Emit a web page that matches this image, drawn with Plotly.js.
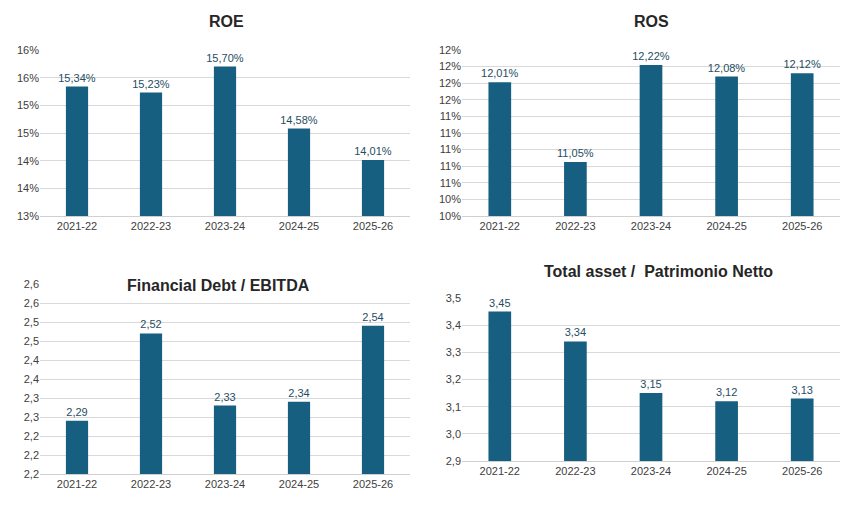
<!DOCTYPE html>
<html><head><meta charset="utf-8">
<script src="https://cdn.plot.ly/plotly-3.0.1.min.js"></script>
<style>body{margin:0;background:#fff}</style></head>
<body><div id="plot" style="width:857px;height:520px"></div>
<script>
const years = ["2021-22", "2022-23", "2023-24", "2024-25", "2025-26"];
const roe = [15.34, 15.23, 15.70, 14.58, 14.01];
const ros = [12.01, 11.05, 12.22, 12.08, 12.12];
const debtEbitda = [2.29, 2.52, 2.33, 2.34, 2.54];
const assetEquity = [3.45, 3.34, 3.15, 3.12, 3.13];

const roeTicks = [13, 13.5, 14, 14.5, 15, 15.5, 16];
const roeTickText = ["13%", "14%", "14%", "15%", "15%", "16%", "16%"];
const rosTicks = [10.4, 10.6, 10.8, 11.0, 11.2, 11.4, 11.6, 11.8, 12.0, 12.2, 12.4];
const rosTickText = ["10%", "10%", "11%", "11%", "11%", "11%", "11%", "12%", "12%", "12%", "12%"];
const debtTicks = [2.15, 2.2, 2.25, 2.3, 2.35, 2.4, 2.45, 2.5, 2.55, 2.6, 2.65];
const debtTickText = ["2,2", "2,2", "2,2", "2,3", "2,3", "2,4", "2,4", "2,5", "2,5", "2,6", "2,6"];
const assetTicks = [2.9, 3.0, 3.1, 3.2, 3.3, 3.4, 3.5];
const assetTickText = ["2,9", "3,0", "3,1", "3,2", "3,3", "3,4", "3,5"];

const BAR = "#165f80";
const fmt = (v, d, pct) => v.toFixed(d).replace(".", ",") + (pct ? "%" : "");

function bar(y, xa, ya, d, pct) {
  return {
    type: "bar", x: years, y, xaxis: xa, yaxis: ya, width: 0.3,
    marker: { color: BAR }, text: y.map(v => fmt(v, d, pct)),
    textposition: "outside", cliponaxis: false, constraintext: "none",
    textfont: { size: 11, color: "#1f4e63" }, hoverinfo: "skip"
  };
}

const traces = [
  bar(roe, "x", "y", 2, true),
  bar(ros, "x2", "y2", 2, true),
  bar(debtEbitda, "x3", "y3", 2, false),
  bar(assetEquity, "x4", "y4", 2, false)
];

const W = 857, H = 520;
const dx = (a, b) => [a / W, b / W];
const dy = (top, bot) => [1 - bot / H, 1 - top / H];
const xax = (dom, anchor) => ({
  domain: dom, anchor, showgrid: false, showline: true, linecolor: "#d0d0d0",
  ticks: "", tickfont: { size: 11, color: "#404040" }, fixedrange: true
});
const yax = (dom, anchor, range, vals, text) => ({
  domain: dom, anchor, range, tickvals: vals, ticktext: text,
  showgrid: true, gridcolor: "#d9d9d9", zeroline: false, showline: false,
  tickfont: { size: 11, color: "#404040" }, ticks: "", fixedrange: true
});

const titleAnn = (text, x, y) => ({
  text: "<b>" + text + "</b>", x: x / W, y: 1 - y / H, xref: "paper", yref: "paper",
  xanchor: "center", yanchor: "middle",
  showarrow: false, font: { size: 16, color: "#262626" }
});

const layout = {
  width: W, height: H, margin: { l: 0, r: 0, t: 0, b: 0 },
  paper_bgcolor: "#fff", plot_bgcolor: "#fff", showlegend: false,
  font: { family: "Liberation Sans, Arial, sans-serif" },
  xaxis: xax(dx(40, 410), "y"),
  yaxis: yax(dy(50, 216), "x", [13, 16], roeTicks, roeTickText),
  xaxis2: xax(dx(462, 840), "y2"),
  yaxis2: yax(dy(50, 216), "x2", [10.4, 12.4], rosTicks, rosTickText),
  xaxis3: xax(dx(40, 410), "y3"),
  yaxis3: yax(dy(284, 474), "x3", [2.15, 2.65], debtTicks, debtTickText),
  xaxis4: xax(dx(462, 840), "y4"),
  yaxis4: yax(dy(298, 461), "x4", [2.9, 3.5], assetTicks, assetTickText),
  annotations: [
    titleAnn("ROE", 226, 22),
    titleAnn("ROS", 651, 22),
    titleAnn("Financial Debt / EBITDA", 219, 285),
    titleAnn("Total asset /  Patrimonio Netto", 658, 271)
  ]
};

Plotly.newPlot("plot", traces, layout, { displayModeBar: false, staticPlot: true });
</script></body></html>
